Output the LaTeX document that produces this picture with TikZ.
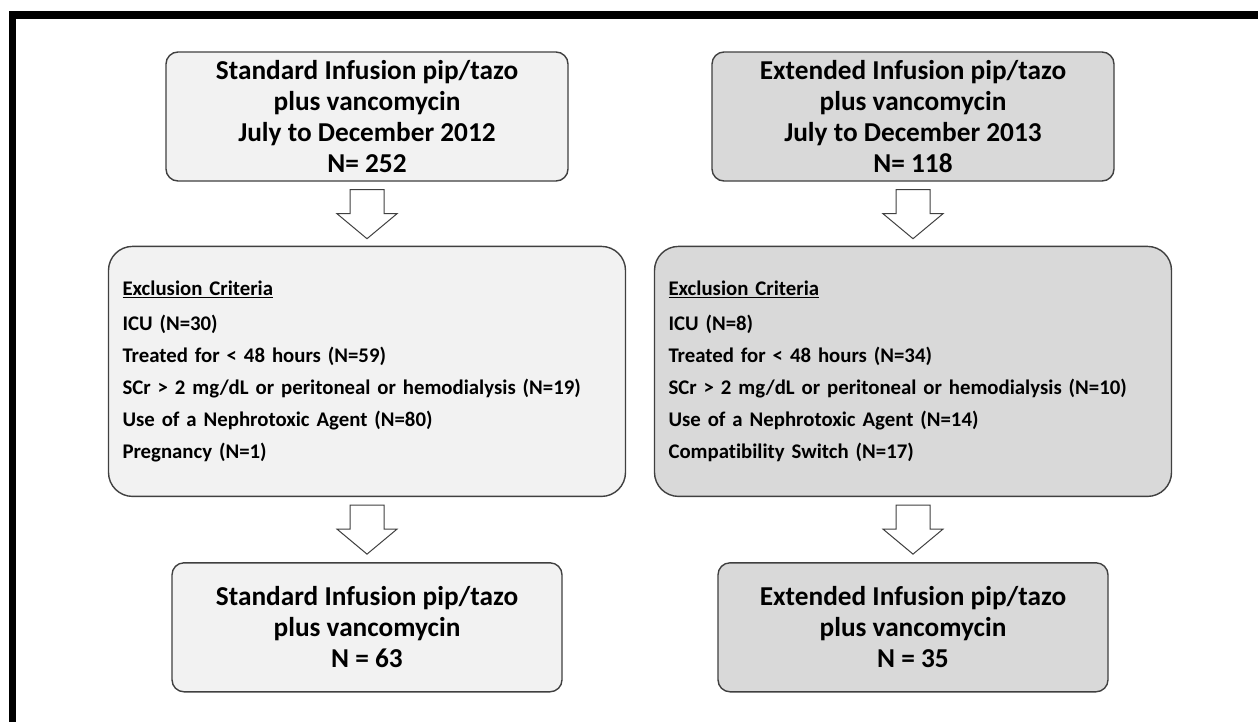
\documentclass[tikz,border=0pt]{standalone}
\usepackage{fontspec}
\setmainfont{Carlito}[Ligatures=NoCommon]
\usetikzlibrary{positioning,calc}
\definecolor{stdfill}{HTML}{F2F2F2}
\definecolor{extfill}{HTML}{D9D9D9}
\definecolor{edgegray}{HTML}{404040}

\begin{document}
\begin{tikzpicture}[
x=1pt, y=1pt,
box/.style={draw=edgegray, line width=1.4pt, rounded corners=12pt, align=center, inner sep=0pt, minimum height=129pt, font=\fontsize{27.3}{31}\selectfont\bfseries},
topbox/.style={box, minimum width=402pt},
endbox/.style={box, minimum width=390pt},
critbox/.style={draw=edgegray, line width=1.4pt, rounded corners=24pt, minimum width=517pt, minimum height=250pt, text width=489pt, align=left, inner sep=0pt, font=\fontsize{20.8}{32}\selectfont\bfseries},
blockarrow/.pic={\draw[edgegray, line width=1pt, fill=white] (-17,0) -- (-17,-24) -- (-30,-24) -- (0,-49) -- (30,-24) -- (17,-24) -- (17,0) -- cycle;},
]
\useasboundingbox[fill=white] (0,0) rectangle (1258,-721);
%Frame
\draw[line width=7.5pt] (12.5,-740) -- (12.5,-15) -- (1270,-15);

%Nodes
\node[topbox, fill=stdfill] (std) at (367,-116.5) {Standard Infusion pip/tazo\\plus vancomycin\\July to December 2012\\N= 252};
\node[topbox, fill=extfill] (ext) at (913,-116.5) {Extended Infusion pip/tazo\\plus vancomycin\\July to December 2013\\N= 118};
\node[critbox, fill=stdfill] (critL) [below=64pt of std] {\underline{Exclusion Criteria}\\[3pt]
ICU (N=30)\\
Treated for < 48 hours (N=59)\\
SCr > 2 mg/dL or peritoneal or hemodialysis (N=19)\\
Use of a Nephrotoxic Agent (N=80)\\
Pregnancy (N=1)};
\node[critbox, fill=extfill] (critR) [below=64pt of ext] {\underline{Exclusion Criteria}\\[3pt]
ICU (N=8)\\
Treated for < 48 hours (N=34)\\
SCr > 2 mg/dL or peritoneal or hemodialysis (N=10)\\
Use of a Nephrotoxic Agent (N=14)\\
Compatibility Switch (N=17)};
\node[endbox, fill=stdfill] (finL) [below=65pt of critL] {Standard Infusion pip/tazo\\plus vancomycin\\N = 63};
\node[endbox, fill=extfill] (finR) [below=65pt of critR] {Extended Infusion pip/tazo\\plus vancomycin\\N = 35};

%Arrows
\pic at ($(std.south)+(0,-8)$) {blockarrow};
\pic at ($(ext.south)+(0,-8)$) {blockarrow};
\pic at ($(critL.south)+(0,-8)$) {blockarrow};
\pic at ($(critR.south)+(0,-8)$) {blockarrow};

\end{tikzpicture}
\end{document}
